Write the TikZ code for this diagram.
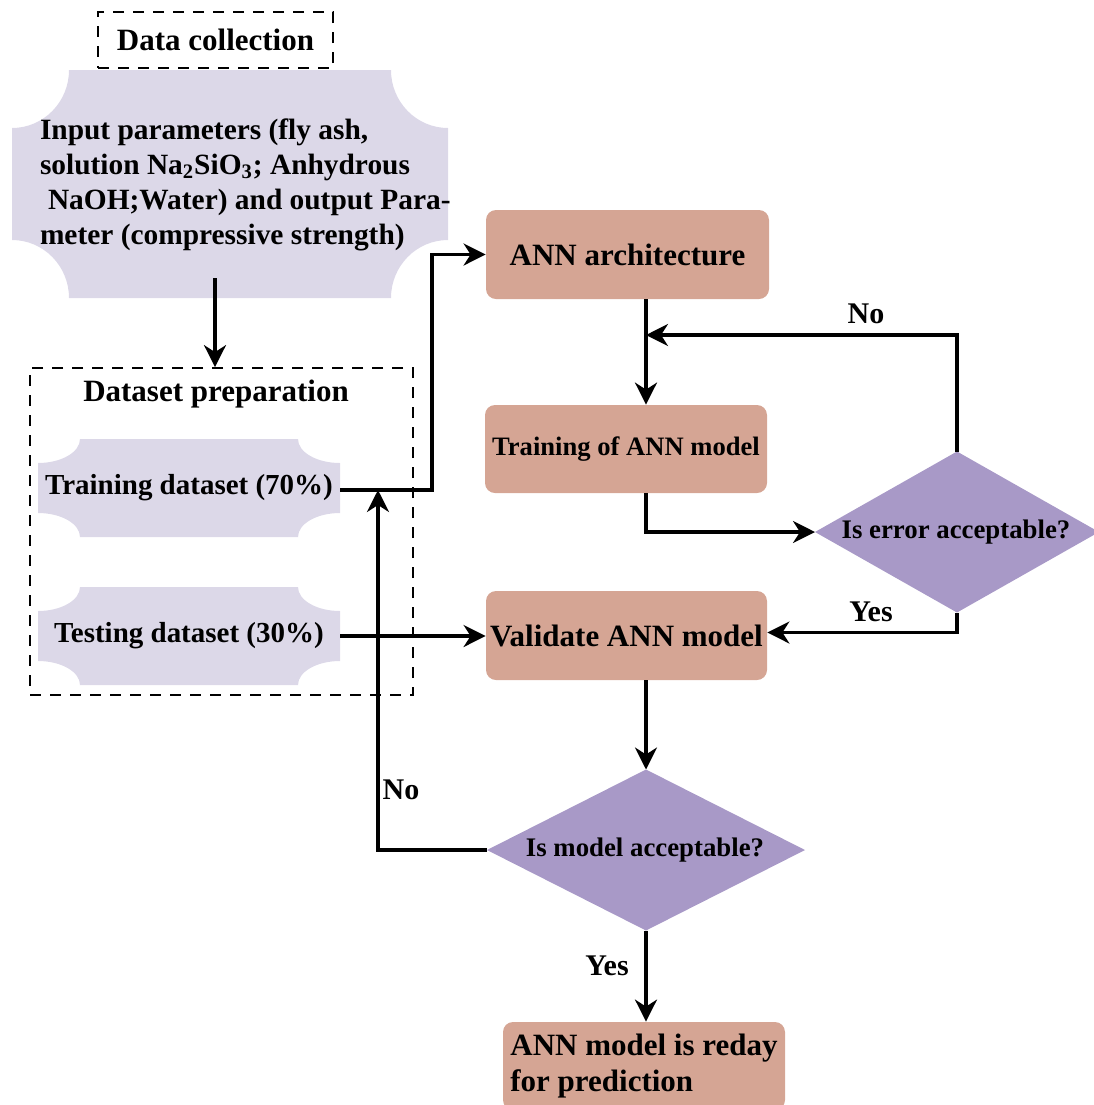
\documentclass[tikz,border=0pt]{standalone}
\usepackage{fontspec}
\setmainfont{Liberation Serif}
\usetikzlibrary{arrows.meta,calc}
\definecolor{plq}{HTML}{DCD8E8}
\definecolor{boxc}{HTML}{D5A594}
\definecolor{dia}{HTML}{A899C7}
% concave-corner plaque: x0 y0 x1 y1 rx ry style
\newcommand\plaqueshape[7]{%
 \fill[#7] ({#1+#5},{#2}) -- ({#3-#5},{#2})
 .. controls ({#3-#5},{#2+0.5523*#6}) and ({#3-0.5523*#5},{#2+#6}) .. ({#3},{#2+#6})
 -- ({#3},{#4-#6})
 .. controls ({#3-0.5523*#5},{#4-#6}) and ({#3-#5},{#4-0.5523*#6}) .. ({#3-#5},{#4})
 -- ({#1+#5},{#4})
 .. controls ({#1+#5},{#4-0.5523*#6}) and ({#1+0.5523*#5},{#4-#6}) .. ({#1},{#4-#6})
 -- ({#1},{#2+#6})
 .. controls ({#1+0.5523*#5},{#2+#6}) and ({#1+#5},{#2+0.5523*#6}) .. ({#1+#5},{#2}) -- cycle;}
\begin{document}
\begin{tikzpicture}[x=0.5pt,y=-0.5pt,
  arr/.style={draw, line width=1.6pt, -{Stealth[length=11pt,width=11pt,inset=3.5pt]}},
  dbox/.style={draw, dash pattern=on 5.5pt off 4.5pt, line width=0.9pt, inner sep=0},
  abox/.style={rounded corners=5pt, fill=boxc, inner sep=0},
  ghost/.style={inner sep=0, outer sep=0},
  fbig/.style={font=\fontsize{15.5}{18}\selectfont\bfseries},
  fmid/.style={font=\fontsize{14.5}{17}\selectfont\bfseries},
  fsm/.style={font=\fontsize{13.4}{16}\selectfont\bfseries},
  lbl/.style={font=\fontsize{15}{17}\selectfont\bfseries, inner sep=0}]
\useasboundingbox (0,0) rectangle (1094,1105);
% plaques
\plaqueshape{12}{70}{448}{298}{57}{58}{plq}
\plaqueshape{38}{439}{340}{537}{42}{24}{plq}
\plaqueshape{38}{587}{340}{685}{42}{24}{plq}
% data collection
\node[dbox, fbig, minimum width=117.5pt, minimum height=28pt] (dc) at (215.5,40) {Data collection};
\node[ghost, minimum width=218pt, minimum height=114pt] (inp) at (230,184) {};
\node[ghost, anchor=west, align=left, font=\fontsize{14.7}{17.5}\selectfont\bfseries] (inptxt) at (40,185)
  {Input parameters (fly ash,\\solution Na\textsubscript{2}SiO\textsubscript{3}; Anhydrous\\\hspace{4pt}NaOH;Water) and output Para-\\meter (compressive strength)};
% dataset preparation
\node[dbox, minimum width=191.5pt, minimum height=163.5pt] (dp) at (221.5,531.5) {};
\node[ghost, fbig] (dptitle) at (216,394) {Dataset preparation};
\node[ghost, fmid, minimum width=151pt, minimum height=49pt] (trn) at (189,488) {Training dataset (70\%)};
\node[ghost, fmid, minimum width=151pt, minimum height=49pt] (tst) at (189,636) {Testing dataset (30\%)};
% process boxes
\node[abox, fbig, minimum width=141.5pt, minimum height=44.5pt] (arch) at (627.5,254.5) {ANN architecture};
\node[abox, font=\fontsize{13.3}{16}\selectfont\bfseries, minimum width=141pt, minimum height=44pt] (train) at (626,449) {Training of ANN model};
\node[abox, fbig, minimum width=140.5pt, minimum height=44.5pt] (valid) at (626.5,635.5) {Validate ANN model};
\node[abox, fbig, minimum width=141pt, minimum height=44pt, align=left] (ready) at (644,1066) {ANN model is reday\\for prediction};
% decisions
\node[ghost, minimum width=142pt, minimum height=80.5pt] (iserr) at (957,532) {};
\fill[dia] (iserr.north) -- (iserr.east) -- (iserr.south) -- (iserr.west) -- cycle;
\node[ghost, fsm] (iserrtxt) at (956,532) {Is error acceptable?};
\node[ghost, minimum width=159pt, minimum height=80.5pt] (ismod) at (646,850) {};
\fill[dia] (ismod.north) -- (ismod.east) -- (ismod.south) -- (ismod.west) -- cycle;
\node[ghost, fsm] (ismodtxt) at (645,850) {Is model acceptable?};
% helper coordinates
\coordinate (a0) at (215,278);
\coordinate (rt) at (432,490);
\coordinate (jn) at (646,335);
\coordinate (rtip) at (378,490);
% connectors
\draw[arr] (a0) -- (a0 |- dp.north);
\draw[arr] ([yshift=-1pt]trn.east) -- (rt) |- (arch.west);
\draw[arr] (tst.east) -- (tst.east -| valid.west);
\draw[arr] (arch.south -| ismod.north) -- (train.north -| ismod.north);
\draw[arr] (train.south -| ismod.north) |- (iserr.west);
\draw[arr] (iserr.north) |- (jn);
\draw[arr] (iserr.south) |- ([yshift=1.5pt]valid.east);
\draw[arr] (valid.south -| ismod.north) -- (ismod.north);
\draw[arr] (ismod.west) -| (rtip);
\draw[arr] (ismod.south) -- (ismod.south |- ready.north);
% labels
\node[lbl] (lno1) at (866,314) {No};
\node[lbl] (lyes1) at (871,612) {Yes};
\node[lbl] (lno2) at (401,790) {No};
\node[lbl] (lyes2) at (607,966) {Yes};
\end{tikzpicture}
\end{document}
